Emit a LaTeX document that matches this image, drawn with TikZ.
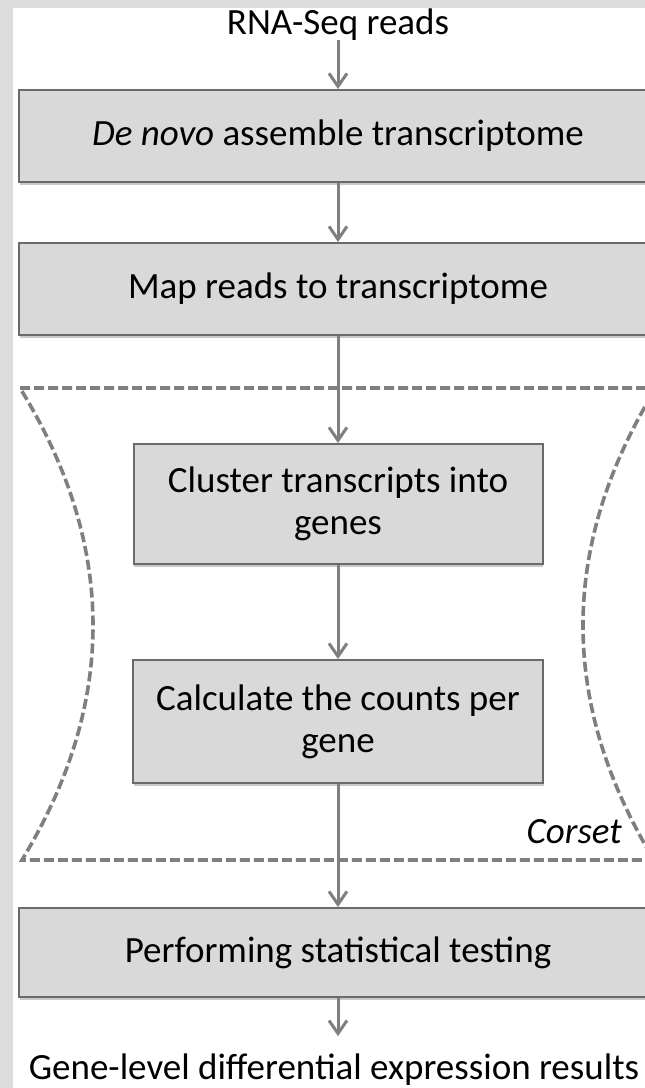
\documentclass[tikz,border=0pt]{standalone}
\usepackage{fontspec}
\setmainfont{Carlito}
\usetikzlibrary{arrows.meta,shadows}

\definecolor{boxfill}{HTML}{D9D9D9}
\definecolor{boxline}{HTML}{6A6A6A}
\definecolor{flowgray}{HTML}{7F7F7F}
\definecolor{margingray}{HTML}{DCDCDC}

\begin{document}
\begin{tikzpicture}[x=1pt,y=-1pt,
  stage/.style={draw=boxline, line width=2pt, fill=boxfill,
    drop shadow={shadow xshift=0.5pt, shadow yshift=-2.5pt, opacity=0.35, fill=black!60},
    align=center, inner sep=0pt, font=\fontsize{37}{42}\selectfont},
  flow/.style={draw=flowgray, line width=3pt,
    -{Straight Barb[length=13pt,width=18pt,line width=3pt]}},
  plain/.style={inner sep=0pt, font=\fontsize{37}{42}\selectfont},
  corset/.style={draw=flowgray, line width=3.6pt, dash pattern=on 10pt off 4pt}]

\useasboundingbox (0,0) rectangle (645,1088);
\clip (0,0) rectangle (645,1088);

% page background with grey margins
\fill[white] (0,0) rectangle (645,1088);
\fill[margingray] (0,0) rectangle (13,1088);
\fill[margingray] (0,0) rectangle (645,8);

% Corset region outline
\draw[corset] (20,388) -- (656,388)
  .. controls (559.3,545.3) and (558.7,702.7) .. (654,860)
  -- (22,860)
  .. controls (117.3,702.7) and (116.7,545.3) .. (20,388) -- cycle;

% stages
\node[plain, anchor=base] (rna) at (338,34) {RNA-Seq reads};
\node[stage, minimum width=638pt, minimum height=92pt] (assemble) at (338,136)
  {\textit{De novo} assemble transcriptome};
\node[stage, minimum width=638pt, minimum height=92pt] (map) at (338,289)
  {Map reads to transcriptome};
\node[stage, minimum width=409pt, minimum height=120pt] (cluster) at (338,504)
  {Cluster transcripts into\\genes};
\node[stage, minimum width=410pt, minimum height=123pt] (count) at (338,721.5)
  {Calculate the counts per\\gene};
\node[stage, minimum width=638pt, minimum height=89pt] (stats) at (338,952.5)
  {Performing statistical testing};
\node[plain, anchor=base] (result) at (334,1079)
  {Gene-level differential expression results};
\node[plain, anchor=base east, font=\fontsize{37}{42}\selectfont\itshape] (corsetlabel) at (622,843) {Corset};

% connectors
\draw[flow] (rna.south) -- (assemble.north);
\draw[flow] (assemble.south) -- (map.north);
\draw[flow] (map.south) -- (cluster.north);
\draw[flow] (cluster.south) -- (count.north);
\draw[flow] (count.south) -- (stats.north);
\draw[flow, shorten >=17pt] (stats.south) -- (stats.south |- result.north);
\end{tikzpicture}
\end{document}
